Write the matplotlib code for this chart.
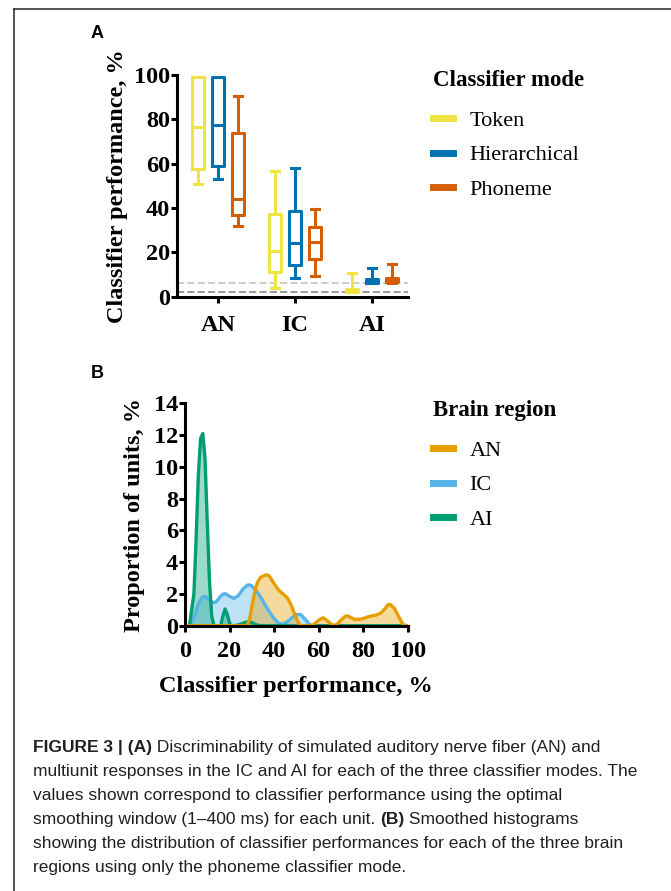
import matplotlib
matplotlib.use("Agg")
import matplotlib.pyplot as plt
import numpy as np
from matplotlib.lines import Line2D

# Panel A: classifier performance per region and classifier mode
regions = ['AN', 'IC', 'AI']
modes = ['Token', 'Hierarchical', 'Phoneme']
mode_colors = ['#F0E442', '#0072B2', '#D55E00']

token_lo = [50.7, 3.8, 2.0]
token_q1 = [57.4, 11.3, 2.0]
token_med = [76.7, 20.6, 2.8]
token_q3 = [99.0, 37.3, 3.5]
token_hi = [99.0, 56.7, 10.5]

hier_lo = [52.9, 8.3, 6.0]
hier_q1 = [59.1, 14.3, 6.3]
hier_med = [77.4, 24.4, 7.2]
hier_q3 = [99.0, 38.8, 8.0]
hier_hi = [99.0, 58.2, 12.8]

phon_lo = [31.9, 9.5, 6.2]
phon_q1 = [36.8, 17.0, 6.5]
phon_med = [43.9, 24.5, 7.6]
phon_q3 = [73.7, 31.6, 8.6]
phon_hi = [90.5, 39.6, 14.6]

chance_levels = [6.2, 2.0]

# Panel B: smoothed histograms (phoneme mode)
an_x = [0, 26, 28, 29, 30, 31, 32, 33, 34, 36, 37, 38, 40, 42, 44, 46, 48, 50, 51, 52,
        54, 56, 58, 60, 62, 64, 66, 68, 70, 72, 73, 74, 76, 78, 80, 82, 84, 86, 88, 90,
        91, 92, 94, 96, 98, 100]
an_y = [0, 0, 0.05, 0.4, 1.2, 1.9, 2.5, 2.85, 3.05, 3.18, 3.2, 3.1, 2.65, 2.25, 2.0, 1.75,
        1.2, 0.45, 0.15, 0, 0, 0, 0.1, 0.35, 0.5, 0.3, 0.05, 0.05, 0.35, 0.6, 0.62, 0.55,
        0.4, 0.4, 0.45, 0.55, 0.62, 0.68, 0.8, 1.1, 1.3, 1.35, 1.1, 0.55, 0.05, 0]

ic_x = [0, 2, 4, 6, 8, 9, 10, 12, 13, 14, 16, 17, 18, 20, 22, 24, 26, 28, 29, 30, 32, 34,
        36, 38, 40, 42, 44, 46, 48, 50, 52, 54, 56, 58, 100]
ic_y = [0, 0, 0.5, 1.4, 1.82, 1.85, 1.75, 1.5, 1.45, 1.5, 1.85, 1.98, 2.02, 1.85, 1.72,
        1.9, 2.3, 2.55, 2.57, 2.5, 2.2, 1.8, 1.3, 0.85, 0.45, 0.15, 0.1, 0.25, 0.5, 0.7,
        0.7, 0.4, 0.05, 0, 0]

ai_x = [0, 2, 4, 5, 6, 7, 8, 9, 10, 11, 12, 13, 14, 16, 17, 18, 19, 20, 21, 22, 24, 26,
        28, 30, 32, 34, 100]
ai_y = [0, 0, 2.0, 5.5, 9.5, 11.8, 12.1, 10.5, 6.5, 2.8, 0.6, 0, 0, 0, 0.6, 1.05, 0.7,
        0.15, 0, 0, 0.05, 0.15, 0.25, 0.2, 0.05, 0, 0]

region_colors = {'AN': '#E69F00', 'IC': '#56B4E9', 'AI': '#009E73'}

serif = 'Liberation Serif'
plt.rcParams['font.family'] = serif
plt.rcParams['font.weight'] = 'bold'

fig = plt.figure(figsize=(6.71, 8.91), dpi=100)

# page frame
fig.add_artist(Line2D([14 / 671, 14 / 671], [0, 1 - 9 / 891], color='#333333', lw=1.2,
                      transform=fig.transFigure))
fig.add_artist(Line2D([14 / 671, 1], [1 - 9 / 891, 1 - 9 / 891], color='#333333', lw=1.2,
                      transform=fig.transFigure))


def style_axes(ax):
    for s in ['top', 'right']:
        ax.spines[s].set_visible(False)
    for s in ['left', 'bottom']:
        ax.spines[s].set_linewidth(2.2)
    ax.tick_params(width=2.2, length=4, labelsize=17.5, pad=1, direction='out')
    for lab in ax.get_xticklabels() + ax.get_yticklabels():
        lab.set_fontweight('bold')


def add_legend(handles, labels, title, top_px):
    leg = fig.legend(handles, labels, loc='upper left', bbox_to_anchor=(433 / 671, 1 - top_px / 891),
                     frameon=False, prop=dict(family=serif, weight='normal', size=16),
                     title=title, title_fontproperties=dict(family=serif, weight='bold', size=16.5),
                     alignment='left', handlelength=0.9, handletextpad=0.75, labelspacing=0.62,
                     borderpad=0, borderaxespad=0)
    leg._legend_box.sep = 14
    return leg


# ---- Panel A ----
axA = fig.add_axes([177 / 671, 1 - 296.7 / 891, (408 - 177) / 671, 221.7 / 891])
offsets = [-0.26, 0.0, 0.26]
series = [
    (token_lo, token_q1, token_med, token_q3, token_hi),
    (hier_lo, hier_q1, hier_med, hier_q3, hier_hi),
    (phon_lo, phon_q1, phon_med, phon_q3, phon_hi),
]
for k, (lo, q1, med, q3, hi) in enumerate(series):
    stats = []
    for i in range(len(regions)):
        stats.append(dict(whislo=lo[i], q1=q1[i], med=med[i], q3=q3[i], whishi=hi[i], fliers=[]))
    c = mode_colors[k]
    lp = dict(color=c, linewidth=2.2)
    axA.bxp(stats, positions=np.arange(len(regions)) + offsets[k], widths=0.16,
            capwidths=0.1, showfliers=False, manage_ticks=False,
            boxprops=lp, medianprops=lp, whiskerprops=lp, capprops=lp)

axA.axhline(chance_levels[0], color='#cccccc', ls='--', lw=1.4, zorder=0)
axA.axhline(chance_levels[1], color='#999999', ls='--', lw=1.4, zorder=0)
axA.set_xlim(-0.53, 2.47)
axA.set_ylim(0, 100)
axA.set_xticks(range(len(regions)))
axA.set_xticklabels(regions)
axA.set_yticks([0, 20, 40, 60, 80, 100])
style_axes(axA)
axA.tick_params(axis='x', pad=9)
axA.set_ylabel('Classifier performance, %', fontsize=17.5, fontweight='bold', labelpad=4)

handlesA = [Line2D([0], [0], color=c, lw=5) for c in mode_colors]
add_legend(handlesA, modes, 'Classifier mode', 70)

# ---- Panel B ----
axB = fig.add_axes([185 / 671, 1 - 625.7 / 891, (407.7 - 185) / 671, 222.3 / 891])
for name, xs, ys in [('IC', ic_x, ic_y), ('AI', ai_x, ai_y), ('AN', an_x, an_y)]:
    c = region_colors[name]
    axB.fill_between(xs, ys, 0, color=c, alpha=0.38, lw=0)
    axB.plot(xs, ys, color=c, lw=2.4, solid_joinstyle='round')
axB.set_xlim(0, 100)
axB.set_ylim(0, 14)
axB.set_xticks([0, 20, 40, 60, 80, 100])
axB.set_yticks([0, 2, 4, 6, 8, 10, 12, 14])
style_axes(axB)
axB.tick_params(axis='x', pad=7)
axB.set_ylabel('Proportion of units, %', fontsize=17.5, fontweight='bold', labelpad=6)
axB.set_xlabel('Classifier performance, %', fontsize=17.5, fontweight='bold', labelpad=10)

region_names = ['AN', 'IC', 'AI']
handlesB = [Line2D([0], [0], color=region_colors[r], lw=5) for r in region_names]
add_legend(handlesB, region_names, 'Brain region', 400)

# panel letters
fig.text(97 / 671, 1 - 33 / 891, 'A', family='Liberation Sans', weight='bold', fontsize=13,
         ha='center', va='center')
fig.text(97 / 671, 1 - 373 / 891, 'B', family='Liberation Sans', weight='bold', fontsize=13,
         ha='center', va='center')

# caption
cap_font = ['Liberation Sans Narrow', 'Liberation Sans']
cap_lines = [
    [('FIGURE 3 | (A)', 'bold'), (' Discriminability of simulated auditory nerve fiber (AN) and', 'normal')],
    [('multiunit responses in the IC and AI for each of the three classifier modes. The', 'normal')],
    [('values shown correspond to classifier performance using the optimal', 'normal')],
    [('smoothing window (1\u2013400 ms) for each unit. ', 'normal'), ('(B)', 'bold'),
     (' Smoothed histograms', 'normal')],
    [('showing the distribution of classifier performances for each of the three brain', 'normal')],
    [('regions using only the phoneme classifier mode.', 'normal')],
]
y0 = 752
for j, parts in enumerate(cap_lines):
    yb = 1 - (y0 + 24 * j) / 891
    prev = None
    for txt, w in parts:
        if prev is None:
            prev = fig.text(33 / 671, yb, txt, family=cap_font, weight=w, fontsize=12.5,
                            color='#231f20', va='baseline', ha='left')
        else:
            prev = axB.annotate(txt, xy=(1, 0), xycoords=prev, va='bottom', ha='left',
                                family=cap_font, weight=w, fontsize=12.5, color='#231f20',
                                annotation_clip=False)

fig.savefig('out.png', dpi=100)
